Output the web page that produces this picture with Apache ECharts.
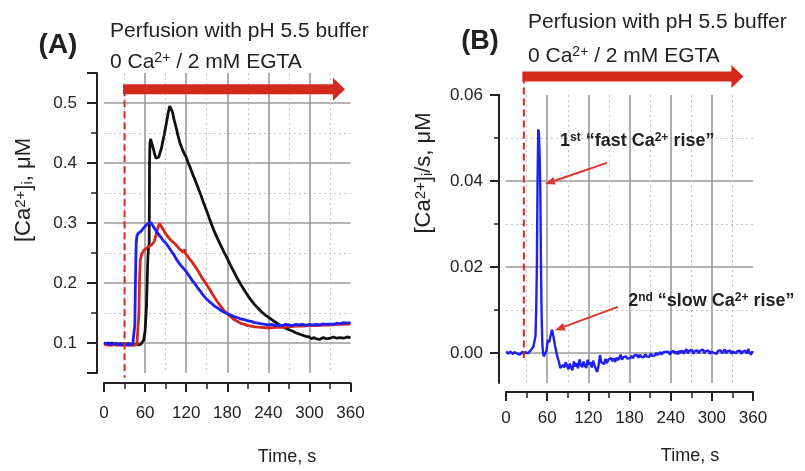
<!DOCTYPE html>
<html><head><meta charset="utf-8">
<script src="https://cdn.jsdelivr.net/npm/echarts@6/dist/echarts.min.js"></script>
<style>html,body{margin:0;padding:0;background:#fff}#c{width:805px;height:471px}</style>
</head><body><div id="c"></div>
<script>
// ---------- DATA ----------
const xTicks = [0, 60, 120, 180, 240, 300, 360];
const yTicksA = [0.1, 0.2, 0.3, 0.4, 0.5];
const yMinorA = [0.15, 0.25, 0.35, 0.45];
const yTicksB = [0, 0.02, 0.04, 0.06];
const yMinorB = [0.01, 0.03, 0.05];

// Panel A: [Ca2+]i (uM) vs time (s)
const blackA = [[0,0.1],[3,0.099],[6,0.1],[9,0.099],[12,0.1],[15,0.098],[18,0.099],[21,0.098],[24,0.099],[27,0.098],[30,0.099],[33,0.098],[36,0.099],[39,0.098],[42,0.098],[45,0.097],[48,0.098],[51,0.097],[54,0.098],[56,0.1],[58,0.105],[60,0.12],[62,0.16],[63,0.2],[64,0.24],[65,0.26],[66,0.265],[66.5,0.4],[67,0.43],[68,0.44],[70,0.432],[72,0.424],[74,0.415],[76,0.408],[78,0.405],[80,0.41],[82,0.418],[84,0.425],[86,0.437],[88,0.447],[90,0.46],[92,0.472],[94,0.485],[96,0.495],[98,0.494],[100,0.485],[102,0.474],[104,0.465],[106,0.456],[108,0.446],[111,0.433],[114,0.424],[117,0.416],[120,0.41],[123,0.4],[126,0.392],[130,0.38],[135,0.366],[140,0.351],[145,0.335],[150,0.32],[155,0.304],[160,0.289],[165,0.276],[170,0.264],[175,0.252],[180,0.241],[185,0.229],[190,0.218],[195,0.207],[200,0.197],[205,0.188],[210,0.179],[215,0.171],[220,0.164],[225,0.158],[230,0.152],[235,0.147],[240,0.143],[245,0.139],[250,0.135],[255,0.131],[260,0.128],[265,0.125],[270,0.122],[275,0.12],[280,0.117],[285,0.115],[290,0.113],[295,0.111],[300,0.11],[303,0.107],[306,0.109],[310,0.107],[315,0.106],[320,0.109],[325,0.107],[330,0.108],[335,0.11],[340,0.108],[345,0.109],[350,0.108],[355,0.11],[360,0.109]];
const redA = [[0,0.097],[3,0.098],[6,0.096],[9,0.097],[12,0.096],[15,0.098],[18,0.096],[21,0.097],[24,0.096],[27,0.097],[30,0.096],[33,0.097],[36,0.096],[39,0.097],[42,0.096],[45,0.097],[48,0.097],[50,0.1],[51,0.15],[52,0.21],[53,0.238],[55,0.248],[58,0.254],[62,0.258],[66,0.261],[70,0.264],[73,0.268],[75,0.276],[77,0.285],[79,0.293],[81,0.299],[83,0.296],[86,0.29],[89,0.284],[92,0.279],[95,0.275],[98,0.271],[101,0.268],[104,0.265],[107,0.261],[110,0.257],[113,0.254],[116,0.251],[118,0.256],[119,0.249],[122,0.245],[125,0.24],[128,0.236],[131,0.231],[134,0.226],[137,0.221],[140,0.215],[143,0.209],[146,0.204],[150,0.197],[154,0.19],[158,0.182],[162,0.175],[166,0.168],[170,0.162],[174,0.156],[178,0.151],[182,0.147],[186,0.143],[190,0.139],[195,0.136],[200,0.133],[205,0.131],[210,0.129],[215,0.128],[220,0.127],[230,0.126],[240,0.125],[250,0.126],[260,0.126],[270,0.127],[280,0.128],[290,0.128],[300,0.129],[310,0.129],[320,0.13],[330,0.13],[340,0.131],[350,0.131],[360,0.132]];
const blueA = [[0,0.1],[3,0.099],[6,0.1],[9,0.097],[12,0.099],[15,0.098],[18,0.099],[21,0.097],[24,0.098],[27,0.097],[30,0.098],[33,0.097],[36,0.098],[39,0.097],[42,0.098],[44,0.099],[45,0.13],[46,0.21],[47,0.265],[48,0.278],[50,0.283],[53,0.285],[56,0.289],[59,0.293],[62,0.297],[65,0.3],[67,0.303],[69,0.3],[72,0.294],[75,0.289],[78,0.284],[81,0.279],[84,0.275],[87,0.27],[90,0.267],[93,0.262],[96,0.257],[99,0.252],[102,0.247],[105,0.241],[108,0.236],[111,0.231],[114,0.227],[117,0.223],[120,0.219],[123,0.214],[126,0.209],[129,0.204],[132,0.2],[135,0.195],[138,0.19],[141,0.186],[144,0.181],[147,0.177],[150,0.173],[154,0.169],[158,0.165],[162,0.161],[166,0.158],[170,0.155],[174,0.152],[178,0.15],[182,0.148],[186,0.146],[190,0.144],[195,0.142],[200,0.14],[205,0.139],[210,0.137],[215,0.136],[220,0.134],[225,0.133],[230,0.132],[235,0.131],[240,0.13],[245,0.131],[250,0.129],[255,0.13],[260,0.129],[265,0.131],[270,0.13],[275,0.129],[280,0.131],[285,0.13],[290,0.131],[295,0.129],[300,0.131],[305,0.13],[310,0.131],[315,0.13],[320,0.132],[325,0.131],[330,0.132],[335,0.131],[340,0.133],[345,0.132],[350,0.134],[355,0.133],[360,0.134]];

// Panel B: d[Ca2+]i/dt (uM/s) vs time (s)
const rateB = [[0,0.0003],[2,0.0001],[4,-0.0002],[6,0.0004],[8,0],[10,-0.0003],[12,0.0002],[14,0.0004],[16,-0.0001],[18,0.0002],[20,-0.0004],[22,0],[24,0.0003],[26,-0.0003],[28,0.0002],[30,0.0005],[32,-0.0001],[34,0.0003],[36,0.0006],[38,0.001],[40,0.0015],[42,0.0018],[43,0.004],[44,0.01],[45,0.02],[46,0.04],[47,0.052],[48,0.051],[49,0.046],[50,0.038],[51,0.02],[52,0.008],[53,0.002],[54,0],[55,-0.0008],[57,-0.0012],[59,0.0005],[61,0.003],[63,0.0025],[65,0.004],[67,0.0054],[69,0.004],[71,0.002],[73,0.0005],[75,-0.001],[77,-0.002],[79,-0.0035],[81,-0.0037],[83,-0.0028],[85,-0.0034],[87,-0.0022],[89,-0.003],[91,-0.0038],[93,-0.0025],[95,-0.0035],[97,-0.004],[99,-0.002],[101,-0.0032],[103,-0.0024],[105,-0.0036],[107,-0.0015],[109,-0.0028],[111,-0.0033],[113,-0.002],[115,-0.003],[117,-0.0035],[119,-0.0016],[121,-0.0027],[123,-0.0022],[125,-0.0034],[127,-0.0018],[129,-0.0029],[131,-0.0038],[133,-0.0044],[135,-0.0028],[137,-0.0005],[139,-0.0022],[141,-0.0018],[143,-0.0026],[145,-0.0014],[147,-0.0024],[149,-0.0016],[151,-0.002],[153,-0.0012],[155,-0.0019],[157,-0.0013],[159,-0.0021],[161,-0.0011],[163,-0.0017],[165,-0.0012],[167,-0.0004],[169,-0.0016],[171,-0.001],[173,-0.0014],[175,-0.0008],[177,-0.0013],[179,-0.0009],[181,-0.0012],[183,-0.0007],[185,-0.0012],[187,-0.0006],[189,-0.001],[191,-0.0005],[193,-0.0011],[195,-0.0004],[197,-0.0009],[199,-0.0006],[201,-0.001],[203,-0.0003],[205,-0.0008],[207,-0.0005],[209,-0.0009],[211,-0.0002],[213,-0.0007],[215,-0.0003],[217,-0.0006],[219,0],[221,-0.0005],[223,-0.0002],[225,0.0002],[227,-0.0004],[229,0.0001],[231,-0.0003],[233,0.0003],[235,-0.0001],[237,0.0002],[239,-0.0004],[241,0.0003],[243,0],[245,0.0004],[247,-0.0002],[249,0.0003],[251,-0.0003],[253,0.0005],[255,0],[257,0.0006],[259,-0.0002],[261,0.0004],[263,0.0009],[265,-0.0001],[267,0.0005],[269,0.0001],[271,0.0007],[273,-0.0002],[275,0.0004],[277,0],[279,0.0006],[281,-0.0001],[283,0.0005],[285,0.0002],[287,0.0008],[289,-0.0001],[291,0.0004],[293,0],[295,0.0006],[297,-0.0002],[299,0.0003],[301,0.0007],[303,0],[305,0.0004],[307,-0.0002],[309,0.0005],[311,0.0001],[313,0.0006],[315,-0.0001],[317,0.0003],[319,0.0008],[321,-0.0001],[323,0.0004],[325,0],[327,0.0005],[329,-0.0002],[331,0.0003],[333,0.0006],[335,-0.0001],[337,0.0004],[339,0],[341,0.0005],[343,-0.0002],[345,0.0003],[347,0.0001],[349,0.0005],[351,-0.0002],[353,0.0009],[355,0.0001],[357,-0.0004],[359,0.0003],[360,0]];

// Annotations (data coordinates): [start time, arrow end time, arrow level, dashed-line bottom]
const perfusionA = [30, 352, 0.523, 0.042];
const perfusionB = [26, 346, 0.0643, -0.0012];
// pointer arrows in B: [[fromT, fromV], [toT, toV]]
const fastArrowB = [[147, 0.0442], [57, 0.0393]];
const slowArrowB = [[163, 0.0107], [71.4, 0.0053]];
// annotation label anchors in B: [t, v]
const fastLabelB = [78.7, 0.0493];
const slowLabelB = [178, 0.0121];

// ---------- CHART ----------
const FONT = '"Liberation Sans", Arial, sans-serif';
const INK = '#222';
const GRID_SOLID = '#9a9a9a';
const GRID_DOT = '#c2c2c2';
const RED = '#d42a1e';

function xAxisFor(gridIndex, offset, margin) {
  return {
    type: 'value', gridIndex, min: 0, max: 360, interval: 60, position: 'bottom', offset,
    axisLine: { show: true, onZero: false, lineStyle: { color: INK, width: 2 } },
    axisTick: { show: true, inside: false, length: 9, customValues: xTicks, lineStyle: { color: INK, width: 2 } },
    minorTick: { show: true, splitNumber: 2, length: 6, lineStyle: { color: INK, width: 1.5 } },
    axisLabel: { show: true, margin, fontSize: 17, color: INK, fontFamily: FONT, customValues: xTicks },
    splitLine: { show: true, showMinLine: false, showMaxLine: false, lineStyle: { color: GRID_SOLID, width: 1.6 } },
    minorSplitLine: { show: true, lineStyle: { color: GRID_DOT, width: 1, type: [2, 3] } }
  };
}
function yMajor(gridIndex, min, max, ticks, labels, tickLen, margin, digits, showMin) {
  return {
    type: 'value', gridIndex, min, max, position: 'left', offset: 7,
    axisLine: { show: true, onZero: false, lineStyle: { color: INK, width: 2 } },
    axisTick: { show: true, inside: false, length: tickLen, customValues: ticks, lineStyle: { color: INK, width: 2 } },
    axisLabel: { show: true, margin, fontSize: 17, color: INK, fontFamily: FONT, customValues: labels,
      formatter: v => Number(v).toFixed(digits) },
    splitLine: { show: true, showMinLine: showMin, showMaxLine: false, lineStyle: { color: GRID_SOLID, width: 1.6 } }
  };
}
function yMinor(gridIndex, min, max, ticks, tickLen) {
  return {
    type: 'value', gridIndex, min, max, position: 'left', offset: 7,
    axisLine: { show: false, onZero: false },
    axisTick: { show: true, inside: false, length: tickLen, customValues: ticks, lineStyle: { color: INK, width: 1.5 } },
    axisLabel: { show: false },
    splitLine: { show: true, lineStyle: { color: GRID_DOT, width: 1, type: [2, 3] } }
  };
}

const chart = echarts.init(document.getElementById('c'), null, { renderer: 'canvas' });
chart.setOption({
  animation: false,
  backgroundColor: '#fff',
  grid: [
    { left: 104, top: 73, width: 246.5, height: 300 },
    { left: 506, top: 95, width: 247, height: 288 }
  ],
  xAxis: [xAxisFor(0, 10, 22), xAxisFor(1, 9, 18)],
  yAxis: [
    yMajor(0, 0.05, 0.55, [0.05].concat(yTicksA, [0.55]), yTicksA, 10, 20, 1, false),
    yMinor(0, 0.05, 0.55, yMinorA, 6),
    yMajor(1, -0.007, 0.06, yTicksB, yTicksB, 9, 16, 2, true),
    yMinor(1, -0.007, 0.06, yMinorB, 5)
  ],
  series: [
    { type: 'line', xAxisIndex: 0, yAxisIndex: 0, data: blackA, showSymbol: false, lineStyle: { color: '#111', width: 2.8 }, z: 3 },
    { type: 'line', xAxisIndex: 0, yAxisIndex: 0, data: redA, showSymbol: false, lineStyle: { color: '#d8261c', width: 2.8 }, z: 4 },
    { type: 'line', xAxisIndex: 0, yAxisIndex: 0, data: blueA, showSymbol: false, lineStyle: { color: '#1f1ff5', width: 2.8 }, z: 5 },
    { type: 'line', xAxisIndex: 1, yAxisIndex: 2, data: rateB, showSymbol: false, lineStyle: { color: '#1f1ff5', width: 2.4 }, z: 5 }
  ]
});

// ---------- ANNOTATIONS (positioned from data coordinates) ----------
function px(si, p) { return chart.convertToPixel({ seriesIndex: si }, p); }

function perfusionMarks(si, spec) {
  const [t0, t1, level, bottom] = spec;
  const a = px(si, [t0, level]), b = px(si, [t1, level]), d = px(si, [t0, bottom]);
  const half = 5, headHalf = 11.5, headLen = 12;
  const x0 = a[0] - 1.5, y = a[1], xt = b[0], xb = xt - headLen;
  return [
    { type: 'line', z: 100, shape: { x1: a[0], y1: y, x2: d[0], y2: d[1] },
      style: { stroke: RED, lineWidth: 2, lineDash: [7, 4] } },
    { type: 'polygon', z: 101, shape: { points: [[x0, y - half], [xb, y - half], [xb, y - headHalf], [xt, y], [xb, y + headHalf], [xb, y + half], [x0, y + half]] },
      style: { fill: RED } }
  ];
}
function pointer(si, spec) {
  const a = px(si, spec[0]), b = px(si, spec[1]);
  const ang = Math.atan2(b[1] - a[1], b[0] - a[0]);
  const L = 10, W = 4;
  const bx = b[0] - L * Math.cos(ang), by = b[1] - L * Math.sin(ang);
  const nx = -Math.sin(ang) * W, ny = Math.cos(ang) * W;
  return [
    { type: 'line', z: 100, shape: { x1: a[0], y1: a[1], x2: bx, y2: by }, style: { stroke: '#e0352b', lineWidth: 2 } },
    { type: 'polygon', z: 100, shape: { points: [[b[0], b[1]], [bx + nx, by + ny], [bx - nx, by - ny]] }, style: { fill: '#e0352b' } }
  ];
}
function txt(x, y, text, size, opts) {
  opts = opts || {};
  const w = opts.bold ? 'bold' : 'normal';
  return {
    type: 'text', z: 110, x, y, rotation: opts.rotation || 0,
    style: {
      text, fontSize: size, fontFamily: FONT, fontWeight: w, fill: INK,
      align: opts.align || 'left', textAlign: opts.align || 'left',
      verticalAlign: 'middle', textVerticalAlign: 'middle',
      rich: {
        sup: { fontSize: Math.round(size * 0.68), fontFamily: FONT, fontWeight: w, fill: INK, verticalAlign: 'top' },
        sub: { fontSize: Math.round(size * 0.68), fontFamily: FONT, fontWeight: w, fill: INK, verticalAlign: 'bottom' },
        n: { fontSize: size, fontFamily: FONT, fontWeight: w, fill: INK }
      }
    }
  };
}

const fl = px(3, fastLabelB), sl = px(3, slowLabelB);
const graphics = [].concat(
  perfusionMarks(0, perfusionA),
  perfusionMarks(3, perfusionB),
  pointer(3, fastArrowB),
  pointer(3, slowArrowB),
  [
    txt(58, 45, '(A)', 28, { bold: true, align: 'center' }),
    txt(480, 42, '(B)', 27, { bold: true, align: 'center' }),
    txt(110, 31, 'Perfusion with pH 5.5 buffer', 21),
    txt(110, 62, '{n|0 Ca}{sup|2+}{n| / 2 mM EGTA}', 21),
    txt(528, 22, 'Perfusion with pH 5.5 buffer', 21),
    txt(528, 56, '{n|0 Ca}{sup|2+}{n| / 2 mM EGTA}', 21),
    txt(287, 457, 'Time, s', 18, { align: 'center' }),
    txt(690, 456, 'Time, s', 18, { align: 'center' }),
    txt(24, 190, '{n|[Ca}{sup|2+}{n|]}{sub|i}{n|, μM}', 22, { align: 'center', rotation: Math.PI / 2 }),
    txt(424, 173, '{n|[Ca}{sup|2+}{n|]}{sub|i}{n|/s, μM}', 22, { align: 'center', rotation: Math.PI / 2 }),
    txt(fl[0], fl[1], '{n|1}{sup|st}{n| “fast Ca}{sup|2+}{n| rise”}', 18, { bold: true }),
    txt(sl[0], sl[1], '{n|2}{sup|nd}{n| “slow Ca}{sup|2+}{n| rise”}', 18, { bold: true })
  ]
);
chart.setOption({ graphic: graphics });
</script>
</body></html>
